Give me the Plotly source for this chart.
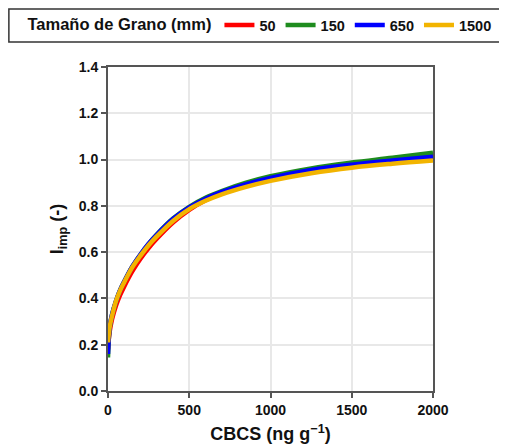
import plotly.graph_objects as go

cbcs = [0, 10, 25, 50, 75, 100, 150, 200, 250, 300, 400, 500, 600, 700, 850, 1000, 1250, 1500, 1750, 2000]

grain_sizes = ["50", "150", "650", "1500"]
iimp_50 = [0.18, 0.255, 0.31, 0.37, 0.415, 0.452, 0.518, 0.572, 0.618, 0.658, 0.728, 0.783, 0.824, 0.855, 0.891, 0.920, 0.955, 0.981, 1.002, 1.020]
iimp_150 = [0.145, 0.27, 0.33, 0.39, 0.437, 0.473, 0.538, 0.590, 0.636, 0.676, 0.745, 0.796, 0.835, 0.864, 0.900, 0.928, 0.962, 0.987, 1.008, 1.030]
iimp_650 = [0.16, 0.275, 0.33, 0.39, 0.437, 0.473, 0.538, 0.590, 0.636, 0.675, 0.743, 0.793, 0.831, 0.860, 0.894, 0.921, 0.955, 0.978, 0.996, 1.012]
iimp_1500 = [0.21, 0.275, 0.325, 0.39, 0.435, 0.470, 0.535, 0.585, 0.630, 0.668, 0.735, 0.786, 0.822, 0.850, 0.882, 0.908, 0.941, 0.965, 0.982, 0.996]

series = [iimp_50, iimp_150, iimp_650, iimp_1500]
colors = ["#ff0000", "#1e8c1e", "#0000ff", "#f2b400"]

FONT = "Liberation Sans, Arial, sans-serif"

fig = go.Figure()
for name, ys, c in zip(grain_sizes, series, colors):
    fig.add_trace(go.Scatter(
        x=cbcs, y=ys, name="<b>" + name + "</b>", mode="lines",
        line=dict(color=c, width=4.5, shape="spline", smoothing=1.0),
    ))

fig.update_layout(
    width=499, height=440,
    margin=dict(l=100, r=74, t=59, b=57),
    paper_bgcolor="white", plot_bgcolor="white",
    font=dict(family=FONT, size=14, color="#111"),
    legend=dict(
        orientation="h",
        xref="container", yref="container",
        x=0.035, xanchor="left", y=1 - 17 / 440, yanchor="middle",
        title=dict(text="<b>Tamaño de Grano (mm)</b>", font=dict(family=FONT, size=16.5, color="#111")),
        font=dict(family=FONT, size=14.5, color="#111"),
        bgcolor="rgba(0,0,0,0)",
        borderwidth=0,
        itemwidth=30,
    ),
    shapes=[dict(type="rect", xref="paper", yref="paper",
                 x0=-0.305, x1=1.35, y0=1.077, y1=1.179,
                 line=dict(color="#333", width=1.5), fillcolor="rgba(0,0,0,0)", layer="above")],
)

fig.update_xaxes(
    range=[0, 2000], tickvals=[0, 500, 1000, 1500, 2000],
    showgrid=True, gridcolor="#e8e8e8", gridwidth=1.5,
    showline=True, linecolor="#555", linewidth=2, mirror=True,
    ticks="outside", ticklen=5, tickwidth=2, tickcolor="#555",
    tickfont=dict(family=FONT, size=14, color="#111", weight="bold"),
    title=dict(text="<b>CBCS (ng g<sup>−1</sup>)</b>", font=dict(family=FONT, size=18, color="#111"), standoff=11),
    zeroline=False, automargin=False,
)
fig.update_yaxes(
    range=[0, 1.4], tickvals=[0, 0.2, 0.4, 0.6, 0.8, 1.0, 1.2, 1.4], tickformat=".1f",
    showgrid=True, gridcolor="#e8e8e8", gridwidth=1.5,
    showline=True, linecolor="#555", linewidth=2, mirror=True,
    ticks="outside", ticklen=5, tickwidth=2, tickcolor="#555",
    tickfont=dict(family=FONT, size=14, color="#111", weight="bold"),
    title=dict(text="<b>I<sub>imp</sub> (-)</b>", font=dict(family=FONT, size=18, color="#111"), standoff=10),
    zeroline=False, automargin=False,
)

fig.write_html("out.html")
